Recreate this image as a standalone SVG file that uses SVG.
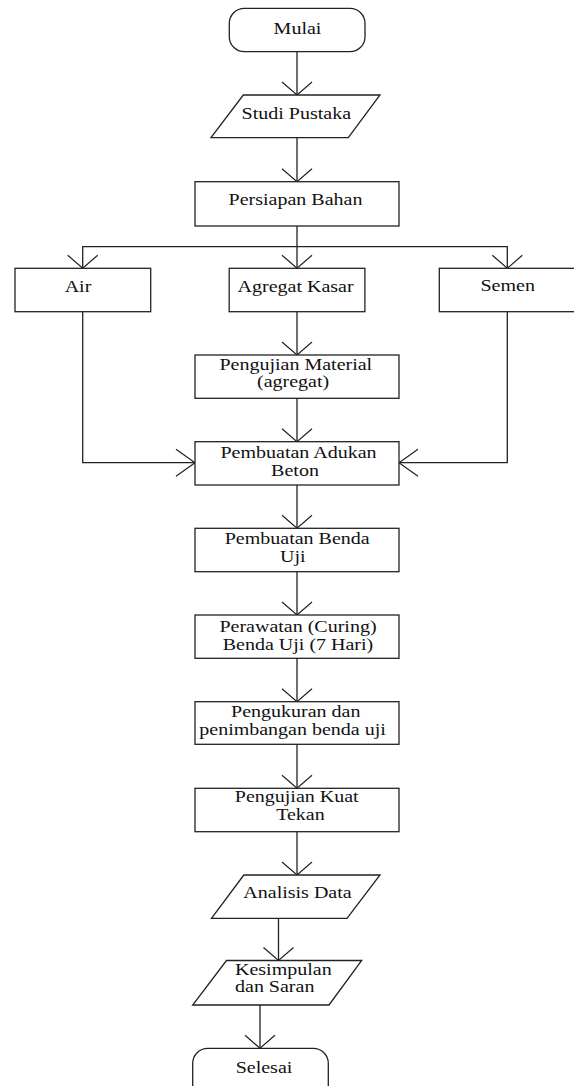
<svg xmlns="http://www.w3.org/2000/svg" width="574" height="1086" viewBox="0 0 574 1086">
<style>
.s{fill:#fff;stroke:#222;stroke-width:1.3}
.c{fill:none;stroke:#222;stroke-width:1.3}
.t{font-family:"Liberation Serif","Times New Roman",serif;font-size:16px;fill:#111;text-anchor:middle}
.l{text-anchor:start}
</style>
<defs>
<marker id="av" markerUnits="userSpaceOnUse" viewBox="-15 -16 17 32" refX="0" refY="0" markerWidth="17" markerHeight="32" orient="auto">
<path d="M-13,-15 L0,0 L-13,15" fill="none" stroke="#222" stroke-width="1.2"/>
</marker>
<marker id="ah" markerUnits="userSpaceOnUse" viewBox="-21 -15 23 30" refX="0" refY="0" markerWidth="23" markerHeight="30" orient="auto">
<path d="M-19,-13.5 L0,0 L-19,13.5" fill="none" stroke="#222" stroke-width="1.2"/>
</marker>
</defs>
<rect width="574" height="1086" fill="#fff"/>
<g id="connectors">
<path class="c" d="M297,51.7 V95" marker-end="url(#av)"/>
<path class="c" d="M297,137.7 V181.7" marker-end="url(#av)"/>
<path class="c" d="M297,226 V268.3" marker-end="url(#av)"/>
<path class="c" d="M297,246.7 H82.7 V268.3" marker-end="url(#av)"/>
<path class="c" d="M297,246.7 H507.3 V268.3" marker-end="url(#av)"/>
<path class="c" d="M297,311.7 V355" marker-end="url(#av)"/>
<path class="c" d="M297,398.3 V441.7" marker-end="url(#av)"/>
<path class="c" d="M82.7,311.7 V462.7 H195" marker-end="url(#ah)"/>
<path class="c" d="M507.3,311.7 V462.7 H399" marker-end="url(#ah)"/>
<path class="c" d="M297,485 V528.3" marker-end="url(#av)"/>
<path class="c" d="M297,571.7 V615" marker-end="url(#av)"/>
<path class="c" d="M297,658.3 V701.7" marker-end="url(#av)"/>
<path class="c" d="M297,744.3 V788.3" marker-end="url(#av)"/>
<path class="c" d="M297,831.7 V875" marker-end="url(#av)"/>
<path class="c" d="M278.5,918.3 V960.5" marker-end="url(#av)"/>
<path class="c" d="M260,1005 V1048.3" marker-end="url(#av)"/>
</g>
<g id="mulai">
<rect class="s" x="229.3" y="8.3" width="135.7" height="43.4" rx="15"/>
<text class="t" transform="matrix(1.25 0 0 1 297.5 34.3)">Mulai</text>
</g>
<g id="studi-pustaka">
<polygon class="s" points="243.3,95 380,95 348.3,137.7 211,137.7"/>
<text class="t" transform="matrix(1.25 0 0 1 296.3 119)">Studi Pustaka</text>
</g>
<g id="persiapan-bahan">
<rect class="s" x="195" y="181.7" width="204" height="44.3"/>
<text class="t" transform="matrix(1.25 0 0 1 295.5 205)">Persiapan Bahan</text>
</g>
<g id="air">
<rect class="s" x="15" y="268.3" width="135.7" height="43.4"/>
<text class="t" transform="matrix(1.25 0 0 1 78 291.7)">Air</text>
</g>
<g id="agregat-kasar">
<rect class="s" x="229.2" y="268.3" width="135.7" height="43.4"/>
<text class="t" transform="matrix(1.25 0 0 1 295.6 291.5)">Agregat Kasar</text>
</g>
<g id="semen">
<rect class="s" x="439.3" y="268.3" width="135.7" height="43.4"/>
<text class="t" transform="matrix(1.25 0 0 1 507.7 291)">Semen</text>
</g>
<g id="pengujian-material">
<rect class="s" x="195" y="355" width="204" height="43.3"/>
<text class="t" transform="matrix(1.25 0 0 1 295.8 369.5)">Pengujian Material<tspan x="-2.2" dy="18">(agregat)</tspan></text>
</g>
<g id="pembuatan-adukan">
<rect class="s" x="195" y="441.7" width="204" height="43.3"/>
<text class="t" transform="matrix(1.25 0 0 1 298.5 458)">Pembuatan Adukan<tspan x="-2.8" dy="18.3">Beton</tspan></text>
</g>
<g id="pembuatan-benda-uji">
<rect class="s" x="195" y="528.3" width="204" height="43.4"/>
<text class="t" transform="matrix(1.25 0 0 1 297.2 544)">Pembuatan Benda<tspan x="-3.5" dy="17.7">Uji</tspan></text>
</g>
<g id="perawatan">
<rect class="s" x="195" y="615" width="204" height="43.3"/>
<text class="t" transform="matrix(1.25 0 0 1 298 631.7)">Perawatan (Curing)<tspan x="0" dy="18.3">Benda Uji (7 Hari)</tspan></text>
</g>
<g id="pengukuran">
<rect class="s" x="195" y="701.7" width="204" height="42.6"/>
<text class="t" transform="matrix(1.25 0 0 1 295.8 716.7)">Pengukuran dan<tspan x="-2.6" dy="18.3">penimbangan benda uji</tspan></text>
</g>
<g id="pengujian-kuat-tekan">
<rect class="s" x="195" y="788.3" width="204" height="43.4"/>
<text class="t" transform="matrix(1.25 0 0 1 296.7 801.7)">Pengujian Kuat<tspan x="3" dy="18.3">Tekan</tspan></text>
</g>
<g id="analisis-data">
<polygon class="s" points="243.8,875 380,875 347,918.3 211.5,918.3"/>
<text class="t" transform="matrix(1.25 0 0 1 297.5 898.3)">Analisis Data</text>
</g>
<g id="kesimpulan">
<polygon class="s" points="226.5,960.5 361.7,960.5 329,1005 192.7,1005"/>
<text class="t l" transform="matrix(1.25 0 0 1 235 975)">Kesimpulan<tspan x="0" dy="16.7">dan Saran</tspan></text>
</g>
<g id="selesai">
<rect class="s" x="192.7" y="1048.3" width="135.6" height="60" rx="15"/>
<text class="t" transform="matrix(1.25 0 0 1 264 1073.3)">Selesai</text>
</g>
</svg>
